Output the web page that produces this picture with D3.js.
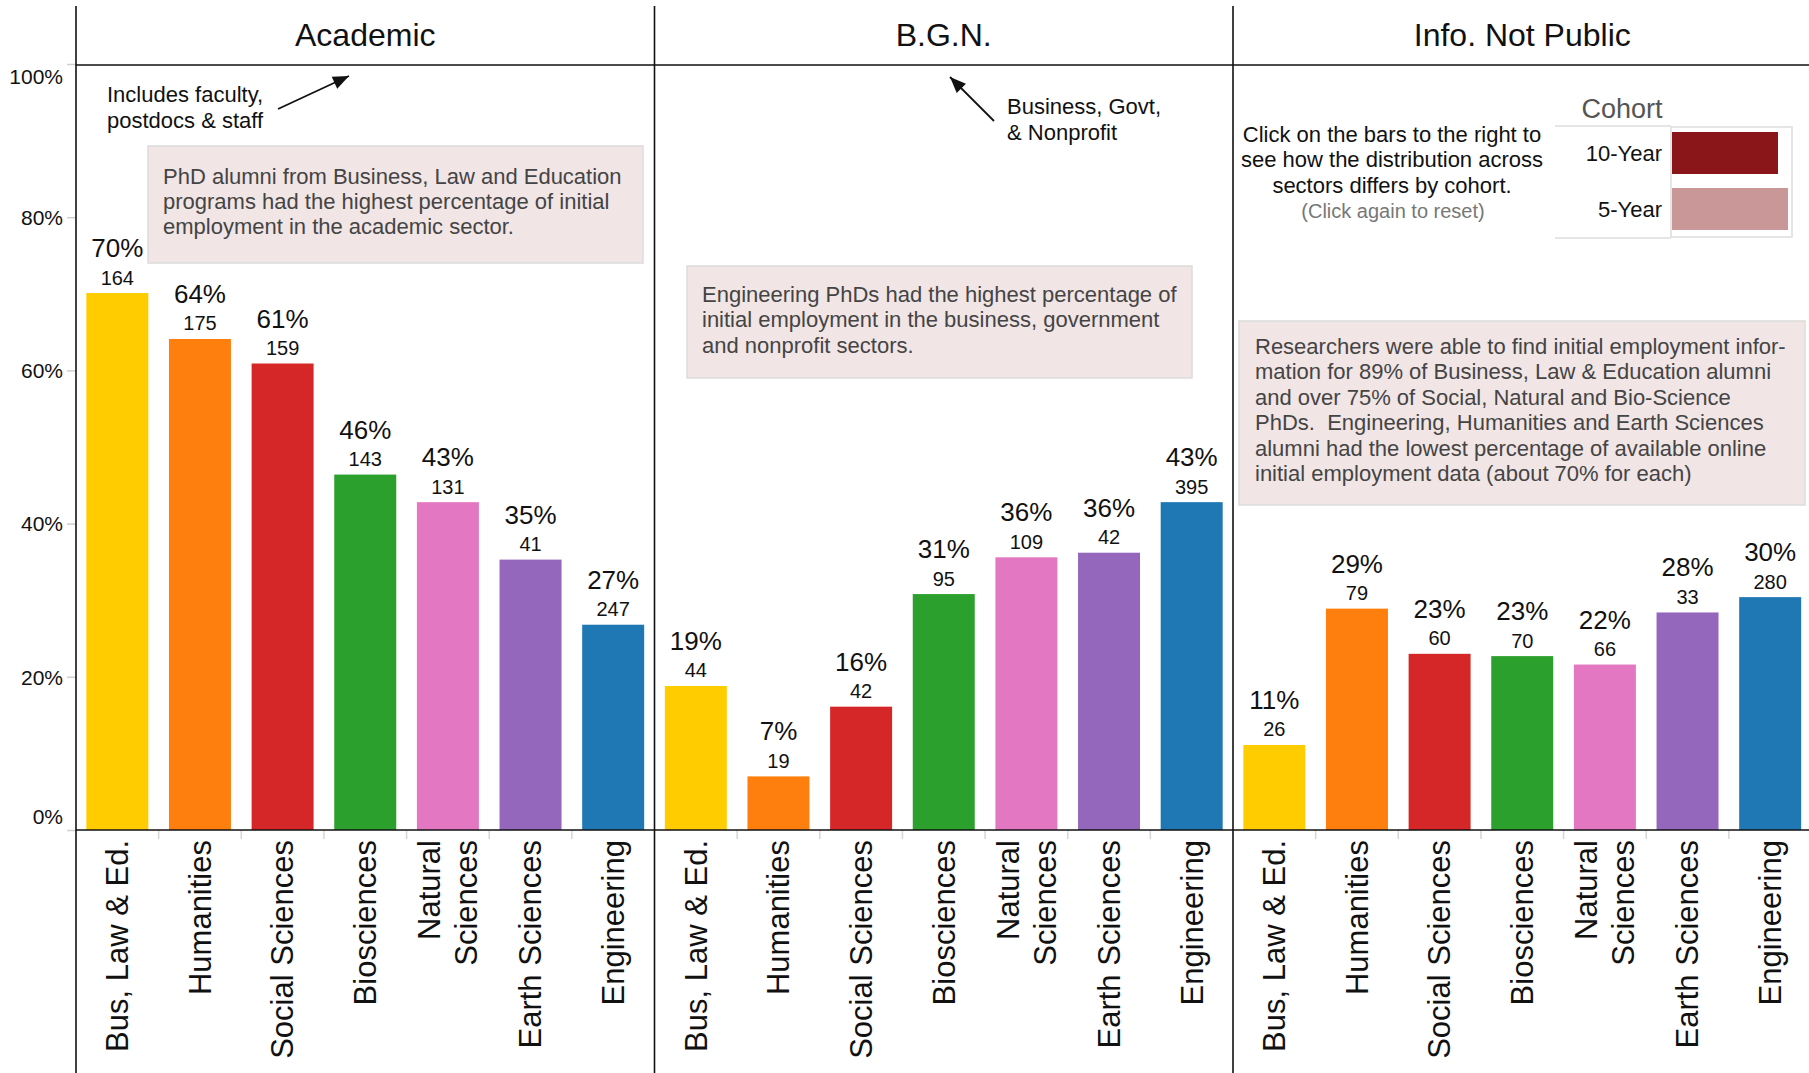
<!DOCTYPE html>
<html>
<head>
<meta charset="utf-8">
<script src="https://cdn.jsdelivr.net/npm/d3@7"></script>
<style>
  html, body { margin: 0; padding: 0; background: #fff; }
  svg { display: block; }
  text { font-family: Arial, "Liberation Sans", sans-serif; }
</style>
</head>
<body>
<svg id="chart" width="1809" height="1073"></svg>
<script>
// ---------------- DATA ----------------
const sectors = ["Academic", "B.G.N.", "Info. Not Public"];
const categories = ["Bus, Law & Ed.", "Humanities", "Social Sciences", "Biosciences", "Natural Sciences", "Earth Sciences", "Engineering"];
const categoryLines = [["Bus, Law & Ed."], ["Humanities"], ["Social Sciences"], ["Biosciences"], ["Natural", "Sciences"], ["Earth Sciences"], ["Engineering"]];
const categoryColors = ["#ffcc00", "#ff7f0e", "#d62728", "#2ca02c", "#e377c2", "#9467bd", "#1f77b4"];

const academicPct = [0.701, 0.641, 0.609, 0.464, 0.428, 0.353, 0.268];
const academicCount = [164, 175, 159, 143, 131, 41, 247];
const bgnPct = [0.188, 0.070, 0.161, 0.308, 0.356, 0.362, 0.428];
const bgnCount = [44, 19, 42, 95, 109, 42, 395];
const infoPct = [0.111, 0.289, 0.230, 0.227, 0.216, 0.284, 0.304];
const infoCount = [26, 79, 60, 70, 66, 33, 280];

const yTicks = [0, 0.2, 0.4, 0.6, 0.8, 1.0];
const cohortLabels = ["10-Year", "5-Year"];
const cohortColors = ["#8b1619", "#c99797"];

const sectorPct = [academicPct, bgnPct, infoPct];
const sectorCount = [academicCount, bgnCount, infoCount];

// ---------------- LAYOUT ----------------
const svg = d3.select("#chart");
const FONT = 'Arial, "Liberation Sans", sans-serif';
const leftX = 76, paneW = 578.5, topY = 65, baseY = 830, frameTop = 6, fullH = 1073;

const y = d3.scaleLinear().domain([0, 1]).range([baseY, topY - 1]);

// Y axis
const yAxis = d3.axisLeft(y).tickValues(yTicks).tickFormat(d3.format(".0%")).tickSize(9).tickPadding(4);
const gy = svg.append("g").attr("transform", `translate(${leftX},0)`).call(yAxis);
gy.select(".domain").remove();
gy.selectAll(".tick line").attr("stroke", "#cfcfcf").attr("stroke-width", 1.5);
gy.selectAll(".tick text").attr("font-size", 21).attr("fill", "#111").attr("font-family", FONT)
  .attr("dy", d => d === 1 ? "0.95em" : d === 0 ? "-0.3em" : "0.35em");

// panes
sectors.forEach((s, i) => {
  const x0 = leftX + i * paneW;
  const x = d3.scaleBand().domain(categories).range([x0, x0 + paneW]).paddingInner(0.25).paddingOuter(0.125);
  const g = svg.append("g");
  const rows = categories.map((c, j) => ({ cat: c, pct: sectorPct[i][j], n: sectorCount[i][j], color: categoryColors[j] }));

  g.selectAll("rect.bar").data(rows).join("rect").attr("class", "bar")
    .attr("x", d => x(d.cat)).attr("width", x.bandwidth())
    .attr("y", d => y(d.pct)).attr("height", d => y(0) - y(d.pct))
    .attr("fill", d => d.color);

  g.selectAll("text.pct").data(rows).join("text").attr("class", "pct")
    .attr("x", d => x(d.cat) + x.bandwidth() / 2).attr("y", d => y(d.pct) - 36)
    .attr("text-anchor", "middle").attr("font-size", 26).attr("fill", "#111")
    .text(d => d3.format(".0%")(d.pct));
  g.selectAll("text.cnt").data(rows).join("text").attr("class", "cnt")
    .attr("x", d => x(d.cat) + x.bandwidth() / 2).attr("y", d => y(d.pct) - 8.5)
    .attr("text-anchor", "middle").attr("font-size", 20).attr("fill", "#111")
    .text(d => d.n);

  const bounds = categories.slice(1).map(c => x(c) - x.step() * x.paddingInner() / 2);
  g.selectAll("line.bt").data(bounds).join("line").attr("class", "bt")
    .attr("x1", d => d).attr("x2", d => d).attr("y1", baseY).attr("y2", baseY + 9)
    .attr("stroke", "#d6d6d6").attr("stroke-width", 1.5);

  const xAxis = d3.axisBottom(x).tickSize(0).tickFormat("");
  const gx = g.append("g").attr("transform", `translate(0,${baseY})`).call(xAxis);
  gx.select(".domain").remove();
  gx.selectAll(".tick").each(function(c) {
    const j = categories.indexOf(c);
    const lns = categoryLines[j];
    const t = d3.select(this).append("text")
      .attr("transform", "translate(0,10) rotate(-90)")
      .attr("text-anchor", "end").attr("font-size", 31).attr("fill", "#111").attr("font-family", FONT);
    lns.forEach((ln, k) => {
      const off = (k - (lns.length - 1) / 2) * 37;
      t.append("tspan").attr("x", 0).attr("y", off).attr("dy", "0.35em").text(ln);
    });
  });

  svg.append("text").attr("x", x0 + paneW / 2).attr("y", 46).attr("text-anchor", "middle")
    .attr("font-size", 32).attr("fill", "#111").text(s);

  svg.append("line").attr("x1", x0).attr("x2", x0).attr("y1", frameTop).attr("y2", fullH)
    .attr("stroke", "#111").attr("stroke-width", 1.6);
});

svg.append("line").attr("x1", leftX).attr("x2", 1809).attr("y1", topY).attr("y2", topY).attr("stroke", "#111").attr("stroke-width", 1.3);
svg.append("line").attr("x1", leftX).attr("x2", 1809).attr("y1", baseY).attr("y2", baseY).attr("stroke", "#111").attr("stroke-width", 1.6);

// ---------------- ANNOTATIONS ----------------
function arrow(x1, y1, x2, y2) {
  svg.append("line").attr("x1", x1).attr("y1", y1).attr("x2", x2).attr("y2", y2)
    .attr("stroke", "#111").attr("stroke-width", 1.8);
  const a = Math.atan2(y2 - y1, x2 - x1), L = 16, Wd = 6.5;
  const bx = x2 - L * Math.cos(a), by = y2 - L * Math.sin(a);
  const px = -Math.sin(a) * Wd, py = Math.cos(a) * Wd;
  svg.append("path").attr("d", `M${x2},${y2}L${bx + px},${by + py}L${bx - px},${by - py}Z`).attr("fill", "#111");
}
function textLines(x, y0, dy, arr, opts) {
  const t = svg.append("text").attr("font-size", opts.size || 22).attr("fill", opts.fill || "#111")
    .attr("text-anchor", opts.anchor || "start");
  arr.forEach((s, k) => t.append("tspan").attr("x", x).attr("y", y0 + k * dy).text(s));
  return t;
}
function box(x, y0, w, h) {
  svg.append("rect").attr("x", x).attr("y", y0).attr("width", w).attr("height", h)
    .attr("fill", "#f1e5e5").attr("stroke", "#dcdcdc").attr("stroke-width", 1.5);
}

textLines(107, 102, 26, ["Includes faculty,", "postdocs & staff"], {});
arrow(278, 109, 349, 76);

box(148, 146, 495, 117);
textLines(163, 184, 25, ["PhD alumni from Business, Law and Education", "programs had the highest percentage of initial", "employment in the academic sector."], { fill: "#444" });

arrow(994, 121, 950, 77);
textLines(1007, 114, 25.5, ["Business, Govt,", "& Nonprofit"], {});

box(687, 266, 505, 112);
textLines(702, 302, 25.3, ["Engineering PhDs had the highest percentage of", "initial employment in the business, government", "and nonprofit sectors."], { fill: "#444" });

textLines(1392, 142, 25.3, ["Click on the bars to the right to", "see how the distribution across", "sectors differs by cohort."], { anchor: "middle" });
textLines(1393, 218, 25, ["(Click again to reset)"], { anchor: "middle", fill: "#777", size: 20 });

box(1239, 321, 566, 184);
textLines(1255, 354, 25.4, [
  "Researchers were able to find initial employment infor-",
  "mation for 89% of Business, Law & Education alumni",
  "and over 75% of Social, Natural and Bio-Science",
  "PhDs.\u00a0\u00a0Engineering, Humanities and Earth Sciences",
  "alumni had the lowest percentage of available online",
  "initial employment data (about 70% for each)"
], { fill: "#444" });

// legend
svg.append("text").attr("x", 1622).attr("y", 118).attr("text-anchor", "middle").attr("font-size", 27).attr("fill", "#555").text("Cohort");
svg.append("line").attr("x1", 1555).attr("x2", 1671).attr("y1", 126).attr("y2", 126).attr("stroke", "#ddd").attr("stroke-width", 1.5);
svg.append("line").attr("x1", 1555).attr("x2", 1671).attr("y1", 238).attr("y2", 238).attr("stroke", "#ddd").attr("stroke-width", 1.5);
svg.append("rect").attr("x", 1671).attr("y", 127).attr("width", 121).attr("height", 110).attr("fill", "none").attr("stroke", "#ddd").attr("stroke-width", 1.5);
const swW = [106, 116];
cohortLabels.forEach((c, k) => {
  svg.append("rect").attr("x", 1672).attr("y", 132 + k * 56).attr("width", swW[k]).attr("height", 42).attr("fill", cohortColors[k]);
  svg.append("text").attr("x", 1662).attr("y", 161 + k * 56).attr("text-anchor", "end").attr("font-size", 22).attr("fill", "#111").text(c);
});
</script>
</body>
</html>
